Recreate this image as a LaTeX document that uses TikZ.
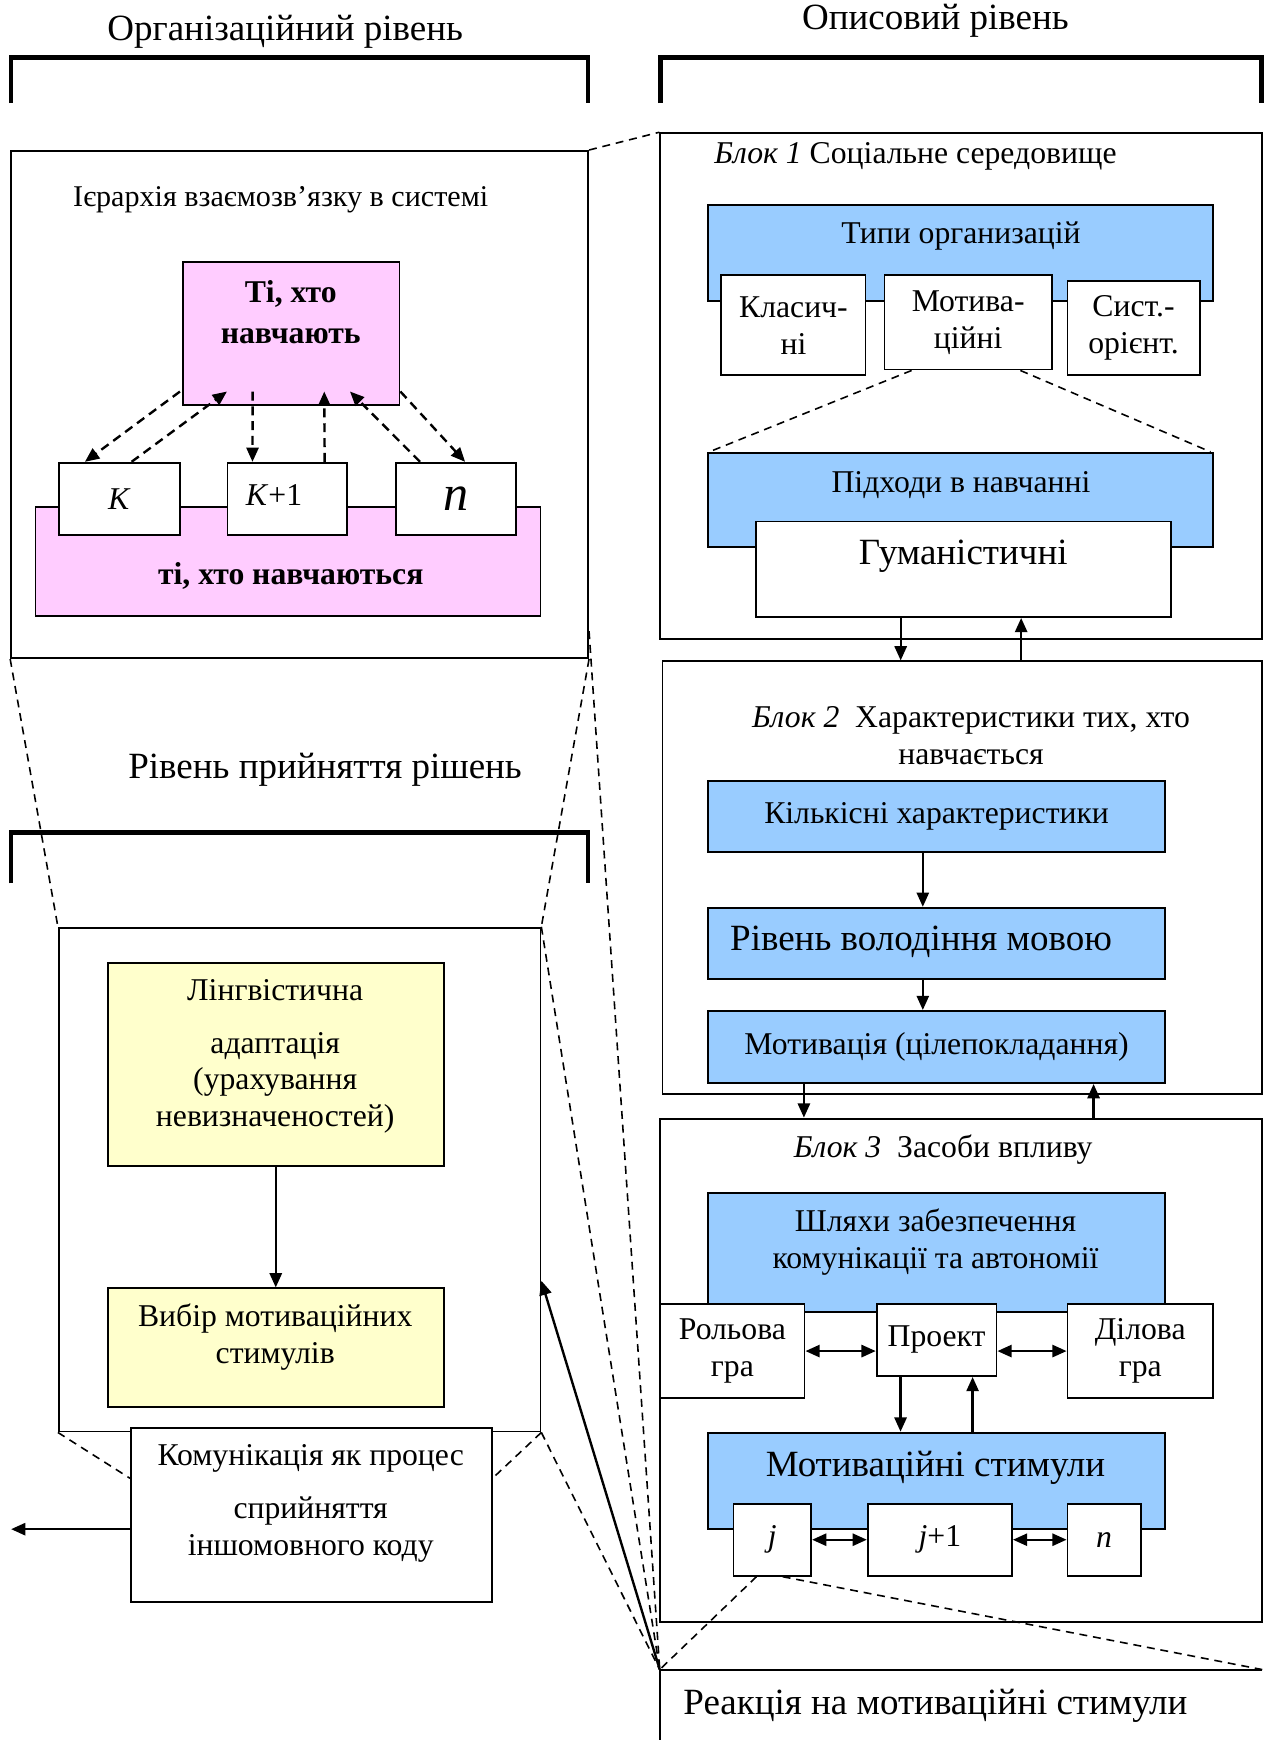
\documentclass[tikz,border=0pt]{standalone}
\usepackage{fontspec}
\setmainfont{Liberation Serif}
\usetikzlibrary{arrows.meta,calc}

\definecolor{pinkc}{HTML}{FFCCFF}
\definecolor{bluec}{HTML}{99CCFF}
\definecolor{yellowc}{HTML}{FFFFCC}

% rectangle node given by its corners: style, name, x1, y1, x2, y2, text
\newcommand\mkbox[7]{%
  \pgfmathsetmacro\bxc{(#3+#5)/2}%
  \pgfmathsetmacro\byc{(#4+#6)/2}%
  \pgfmathsetmacro\bxw{(#5-#3)*0.42}%
  \pgfmathsetmacro\byh{(#6-#4)*0.42}%
  \node[#1, minimum width=\bxw pt, minimum height=\byh pt] (#2) at (\bxc,\byc) {#7};%
}

\tikzset{
  box/.style={draw, line width=0.7pt, fill=white, inner sep=0pt, align=center,
              font=\fontsize{12}{14}\selectfont},
  pinkbox/.style={box, fill=pinkc},
  bluebox/.style={box, fill=bluec},
  yellowbox/.style={box, fill=yellowc},
  txt/.style={inner sep=0pt, align=center, font=\fontsize{12}{14}\selectfont},
  txtb/.style={txt, font=\fontsize{12}{15.5}\selectfont\bfseries},
  txtL/.style={inner sep=0pt, align=center, font=\fontsize{14}{16}\selectfont},
  tip/.tip={Triangle[length=5.4pt,width=4.6pt]},
  arr/.style={line width=0.9pt, -tip},
  dblarr/.style={line width=0.9pt, tip-tip},
  dasharr/.style={line width=0.9pt, dash pattern=on 3.4pt off 2.2pt, -tip},
  guide/.style={line width=0.6pt, dash pattern=on 3pt off 2.2pt},
  brace/.style={line width=1.7pt},
}

\begin{document}
\begin{tikzpicture}[x=0.42pt, y=-0.42pt]
\useasboundingbox (0,0) rectangle (1142,1568);

% ---------- level headings and brackets ----------
\node[txtL] (hOrg) at (257,29) {Організаційний рівень};
\node[txtL] (hDesc) at (843,19) {Описовий рівень};
\draw[brace] (10,93) -- (10,52) -- (530,52) -- (530,93);
\draw[brace] (595,93) -- (595,52) -- (1137,52) -- (1137,93);

% ---------- hierarchy of the system ----------
\mkbox{box}{org}{10}{136}{530}{593}{}
\node[txt, font=\fontsize{11.4}{13}\selectfont] (orgT) at (253,180) {Ієрархія взаємозв’язку в системі};
\mkbox{pinkbox}{teach}{165}{236}{360}{365}{}
\node[txtb] (teachT) at (262,281) {Ті, хто\\навчають};
\mkbox{pinkbox}{learn}{32}{457}{487}{555}{}
\node[txtb] (learnT) at (262,519) {ті, хто навчаються};
\mkbox{box}{k1}{53}{417}{162}{482}{\textit{K}}
\mkbox{box}{k2}{205}{417}{313}{482}{}
\node[txt] (k2T) at (247,446) {\textit{K}+1};
\mkbox{box}{k3}{357}{417}{465}{482}{\fontsize{19}{20}\selectfont\textit{n}}

\draw[dasharr] ($(teach.south west)+(-2,-13)$) -- ($(k1.north west)!0.22!(k1.north east)$);
\draw[dasharr] ($(k1.north west)!0.6!(k1.north east)$) -- ($(teach.south west)!0.205!(teach.south east)+(0,-13)$);
\draw[dasharr] ($(teach.south west)!0.323!(teach.south east)+(0,-13)$) -- ($(k2.north west)!0.213!(k2.north east)$);
\draw[dasharr] ($(k2.north west)!0.806!(k2.north east)$) -- ($(teach.south west)!0.651!(teach.south east)+(0,-13)$);
\draw[dasharr] ($(k3.north west)!0.204!(k3.north east)$) -- ($(teach.south west)!0.769!(teach.south east)+(0,-13)$);
\draw[dasharr] ($(teach.south east)+(0,-13)$) -- ($(k3.north west)!0.574!(k3.north east)$);

% ---------- decision level ----------
\node[txtL] (hDec) at (293,694) {Рівень прийняття рішень};
\draw[brace] (10,796) -- (10,750) -- (530,750) -- (530,796);
\mkbox{box}{dec}{53}{836}{487}{1290}{}
\mkbox{yellowbox}{ling}{97}{868}{400}{1051}{}
\node[txt] (lingT) at (248,952) {Лінгвістична\\[6pt]адаптація\\(урахування\\невизначеностей)};
\mkbox{yellowbox}{choice}{97}{1161}{400}{1268}{}
\node[txt] (choiceT) at (248,1205) {Вибір мотиваційних\\стимулів};
\draw[arr] (ling.south) -- (choice.north);
\mkbox{box}{comm}{118}{1287}{443}{1444}{}
\node[txt] (commT) at (280,1355) {Комунікація як процес\\[6pt]сприйняття\\іншомовного коду};
\coordinate (out) at (10,1378);
\draw[arr] (comm.west |- out) -- (out);

% ---------- block 1 ----------
\mkbox{box}{b1}{595}{120}{1137}{576}{}
\node[txt] (b1T) at (825,141) {\textit{Блок 1} Соціальне середовище};
\mkbox{bluebox}{types}{638}{185}{1093}{271}{}
\node[txt] (typesT) at (866,213) {Типи организацій};
\mkbox{box}{cls}{650}{248}{780}{338}{Класич-\\ні}
\mkbox{box}{mot}{797}{248}{948}{333}{Мотива-\\ційні}
\mkbox{box}{sys}{962}{253}{1081}{338}{Сист.-\\орієнт.}
\mkbox{bluebox}{appr}{638}{408}{1093}{493}{}
\node[txt] (apprT) at (866,437) {Підходи в навчанні};
\mkbox{box}{hum}{681}{470}{1055}{556}{}
\node[txtL] (humT) at (868,501) {Гуманістичні};
\draw[guide] ($(mot.south west)!0.166!(mot.south east)$) -- ($(appr.north west)+(2,0)$);
\draw[guide] ($(mot.south west)!0.808!(mot.south east)$) -- ($(appr.north east)+(-3,0)$);

% ---------- block 2 ----------
\mkbox{box}{b2}{597}{596}{1137}{986}{}
\node[txt] (b2T) at (875,663) {\textit{Блок 2}\enspace Характеристики тих, хто\\навчається};
\mkbox{bluebox}{qty}{638}{704}{1050}{768}{Кількісні характеристики}
\mkbox{bluebox}{lang}{638}{818}{1050}{882}{}
\node[txtL] (langT) at (830,849) {Рівень володіння мовою};
\mkbox{bluebox}{motv}{638}{911}{1050}{976}{Мотивація (цілепокладання)}
\draw[arr] ($(qty.south west)!0.47!(qty.south east)$) coordinate (a1) -- (a1 |- lang.north);
\draw[arr] ($(lang.south west)!0.47!(lang.south east)$) coordinate (a2) -- (a2 |- motv.north);

\path ($(hum.south west)!0.35!(hum.south east)$) coordinate (d1)
      ($(hum.south west)!0.639!(hum.south east)$) coordinate (u1);
\draw[arr] (d1) -- (d1 |- b2.north);
\draw[arr] (u1 |- b2.north) -- (u1);

% ---------- block 3 ----------
\mkbox{box}{b3}{595}{1008}{1137}{1462}{}
\node[txt] (b3T) at (850,1036) {\textit{Блок 3}\enspace Засоби впливу};
\path ($(motv.south west)!0.211!(motv.south east)$) coordinate (d2)
      ($(motv.south west)!0.842!(motv.south east)$) coordinate (u2);
\draw[arr] (d2) -- (d2 |- b3.north);
\draw[arr] (u2 |- b3.north) -- (u2);

\mkbox{bluebox}{ways}{638}{1075}{1050}{1182}{}
\node[txt] (waysT) at (843,1119) {Шляхи забезпечення\\комунікації та автономії};
\mkbox{box}{role}{595}{1175}{725}{1260}{Рольова\\гра}
\mkbox{box}{proj}{790}{1175}{898}{1240}{Проект}
\mkbox{box}{biz}{962}{1175}{1093}{1260}{Ділова\\гра}
\draw[dblarr] (role.east) -- (role.east -| proj.west);
\draw[dblarr] (proj.east |- biz.west) -- (biz.west);

\mkbox{bluebox}{stim}{638}{1291}{1050}{1378}{}
\node[txtL] (stimT) at (843,1323) {Мотиваційні стимули};
\path ($(proj.south west)!0.204!(proj.south east)$) coordinate (d3)
      ($(proj.south west)!0.796!(proj.south east)$) coordinate (u3);
\draw[arr] (d3) -- (d3 |- stim.north);
\draw[arr] (u3 |- stim.north) -- (u3);

\mkbox{box}{jj}{661}{1355}{731}{1420}{\textit{j}}
\mkbox{box}{jj1}{782}{1355}{912}{1420}{\textit{j}+1}
\mkbox{box}{jn}{962}{1355}{1028}{1420}{\textit{n}}
\draw[dblarr] (jj.east) -- (jj1.west);
\draw[dblarr] (jj1.east) -- (jn.west);

% ---------- reaction (runs past the page edge) ----------
\mkbox{txt}{react}{595}{1505}{1137}{1620}{}
\draw[line width=0.7pt] (react.south west) -- (react.north west) -- (react.north east);
\node[txtL] (reactT) at (843,1537) {Реакція на мотиваційні стимули};

% ---------- dashed projection lines ----------
\draw[guide] (org.north east) -- (b1.north west);
\draw[guide] (org.south west) -- (dec.north west);
\draw[guide] (org.south east) -- (dec.north east);
\draw[guide] ($(org.south east)+(0,-25)$) -- (react.north west);
\draw[guide] (dec.north east) -- (react.north west);
\draw[guide] (dec.south east) -- (react.north west);
\draw[guide] (dec.south west) -- ($(comm.north west)+(0,46)$);
\draw[guide] (dec.south east) -- ($(comm.north east)+(0,46)$);
\draw[guide] ($(jj.south west)!0.3!(jj.south east)$) -- (react.north west);
\draw[guide] ($(jj.south west)!0.63!(jj.south east)$) -- (react.north east);
\draw[arr] (react.north west) -- ($(dec.north east)!0.7!(dec.south east)$);

\end{tikzpicture}
\end{document}
